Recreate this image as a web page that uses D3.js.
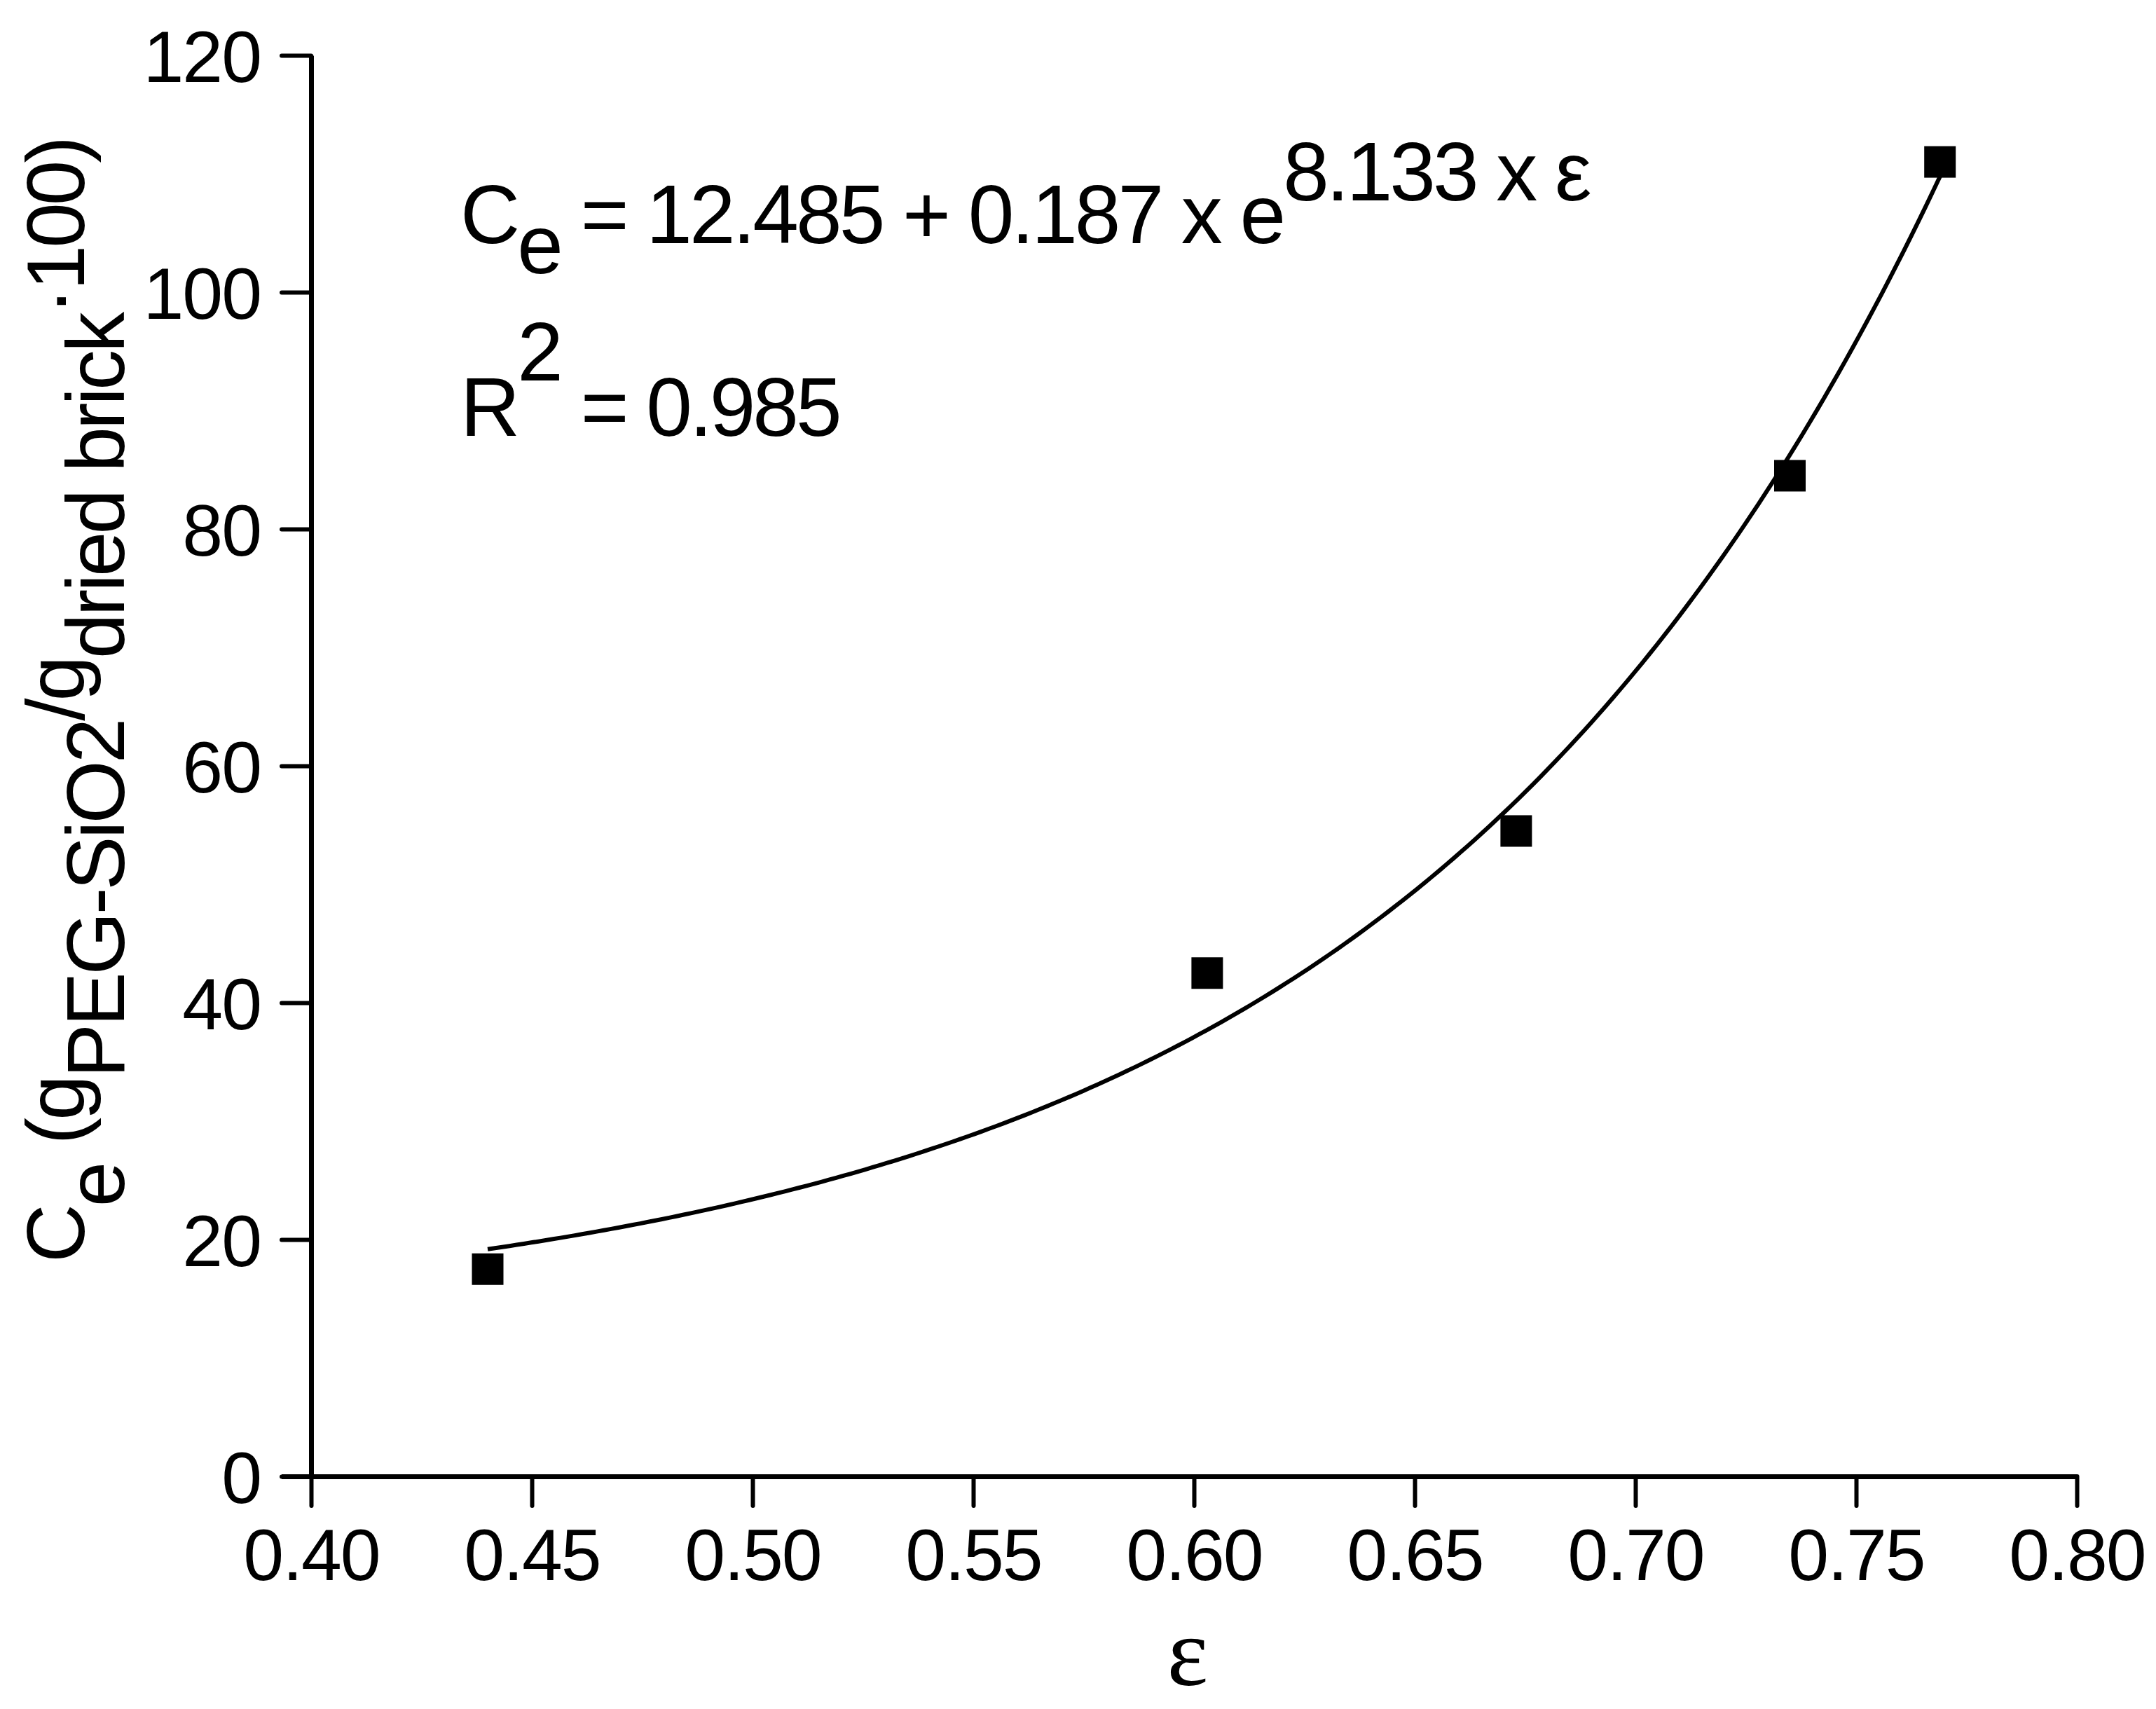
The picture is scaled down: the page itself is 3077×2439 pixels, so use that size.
<!DOCTYPE html>
<html><head><meta charset="utf-8">
<script src="https://cdn.jsdelivr.net/npm/d3@7"></script>
<style>body{margin:0;background:#fff}text{font-family:"Liberation Sans",Arial,sans-serif;fill:#000}</style>
</head><body><svg id="c" width="3077" height="2439"></svg>
<script>
const porosity = [0.440, 0.603, 0.673, 0.735, 0.769];
const uptake = [17.5, 42.5, 54.5, 84.5, 111.0];
const xTicks = [0.40,0.45,0.50,0.55,0.60,0.65,0.70,0.75,0.80];
const yTicks = [0,20,40,60,80,100,120];
const fitA = 12.485, fitB = 0.187, fitK = 8.133;

const svg = d3.select("#c");
const x = d3.scaleLinear().domain([0.40,0.80]).range([444,2964]);
const y = d3.scaleLinear().domain([0,120]).range([2107,79]);

const xa = svg.append("g").attr("transform","translate(0,2107)")
  .call(d3.axisBottom(x).tickValues(xTicks).tickFormat(d3.format(".2f")).tickSize(42).tickSizeOuter(0).tickPadding(32));
const ya = svg.append("g").attr("transform","translate(444,0)")
  .call(d3.axisLeft(y).tickValues(yTicks).tickFormat(d3.format("d")).tickSize(42).tickSizeOuter(0).tickPadding(30));
[xa,ya].forEach(a=>{
  a.select(".domain").attr("stroke","#000").attr("stroke-width",7);
  a.selectAll(".tick line").attr("stroke","#000").attr("stroke-width",6).attr("stroke-linecap","round");
  a.selectAll("text").attr("font-size",104).attr("fill","#000").attr("letter-spacing",-2);
});
ya.selectAll("text").attr("dy","0.36em");
xa.select(".domain").attr("d","M402,0.5H2964");

// fit curve
const fx = d3.range(0,201).map(i=>porosity[0]+(porosity[4]-porosity[0])*i/200);
svg.append("path").datum(fx).attr("fill","none").attr("stroke","#000").attr("stroke-width",6)
  .attr("d", d3.line().x(d=>x(d)).y(d=>y(fitA+fitB*Math.exp(fitK*d))));

// markers
const sz = 45;
svg.selectAll("rect.pt").data(porosity).join("rect").attr("class","pt")
  .attr("x",d=>x(d)-sz/2).attr("y",(d,i)=>y(uptake[i])-sz/2).attr("width",sz).attr("height",sz).attr("fill","#000");

// equation
const eq = svg.append("text").attr("x",657).attr("y",347).attr("font-size",118).attr("letter-spacing",-4);
eq.append("tspan").text("C");
eq.append("tspan").attr("dy",43).text("e");
eq.append("tspan").attr("dy",-43).text(" = 12.485 + 0.187 x e");
eq.append("tspan").attr("dy",-61).text("8.133 x ε");
const r2 = svg.append("text").attr("x",657).attr("y",622).attr("font-size",118).attr("letter-spacing",-4);
r2.append("tspan").text("R");
r2.append("tspan").attr("dy",-79).text("2");
r2.append("tspan").attr("dy",79).text(" = 0.985");

// x label
svg.append("text").attr("x",1695).attr("y",2405).attr("text-anchor","middle")
  .attr("font-size",140).style("font-family","'Liberation Serif','Times New Roman',serif").text("ε");

// y label
const yl = svg.append("text").attr("transform","translate(120,1000) rotate(-90)")
  .attr("text-anchor","middle").attr("font-size",116).attr("letter-spacing",-4);
yl.append("tspan").text("C");
yl.append("tspan").attr("dy",57).text("e");
yl.append("tspan").attr("dy",-57).text(" (g");
yl.append("tspan").attr("dy",57).text("PEG-SiO2");
yl.append("tspan").attr("dy",-57).text("/g");
yl.append("tspan").attr("dy",57).text("dried brick");
yl.append("tspan").attr("dy",-57).text("·100)");
</script></body></html>
